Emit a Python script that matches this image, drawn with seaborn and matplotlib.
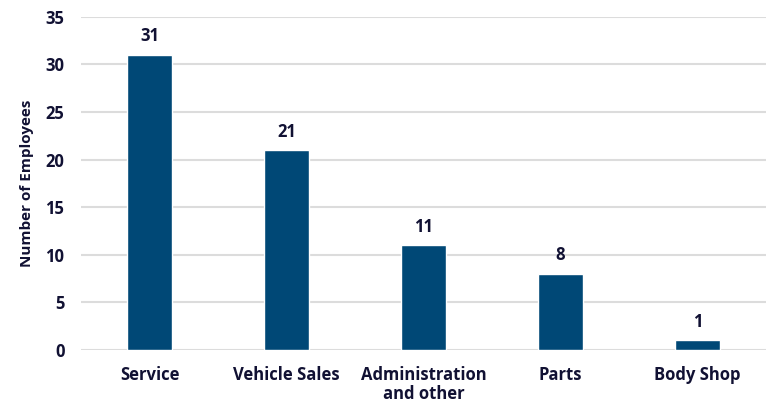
#!/usr/bin/env python3
"""Employees by department bar chart."""

import matplotlib

matplotlib.use("Agg")
import matplotlib.pyplot as plt
import pandas as pd
import seaborn as sns

departments = ["Service", "Vehicle Sales", "Administration\nand other", "Parts", "Body Shop"]
employees = [31, 21, 11, 8, 1]
y_ticks = [0, 5, 10, 15, 20, 25, 30, 35]

BAR_COLOR = "#004876"
TEXT_COLOR = "#111133"

sns.set_theme(style="white")
plt.rcParams["font.family"] = ["Open Sans", "DejaVu Sans"]

df = pd.DataFrame({"department": departments, "employees": employees})

fig = plt.figure(figsize=(7.72, 4.03), dpi=100)
ax = fig.add_axes([0.105, 0.132, 0.887, 0.826])

sns.barplot(data=df, x="department", y="employees", color=BAR_COLOR,
            width=0.33, saturation=1, ax=ax, zorder=3)

for i, v in enumerate(employees):
    ax.text(i, v + 1.0, str(v), ha="center", va="bottom", fontsize=12,
            fontweight="bold", color=TEXT_COLOR)

ax.set_ylim(0, 35)
ax.set_yticks(y_ticks)
ax.yaxis.grid(True, color="#dcdcdc", linewidth=1.5, zorder=0)
ax.set_axisbelow(True)
for s in ax.spines.values():
    s.set_visible(False)

ax.set_xlabel("")
ax.set_ylabel("Number of Employees", fontsize=11, fontweight="bold", color=TEXT_COLOR, labelpad=8)
ax.tick_params(axis="both", length=0, labelsize=12, labelcolor=TEXT_COLOR)
ax.tick_params(axis="x", pad=12)
ax.tick_params(axis="y", pad=12)
for lbl in ax.get_xticklabels() + ax.get_yticklabels():
    lbl.set_fontweight("bold")
    lbl.set_linespacing(1.05)

fig.savefig("out.png", dpi=100)
